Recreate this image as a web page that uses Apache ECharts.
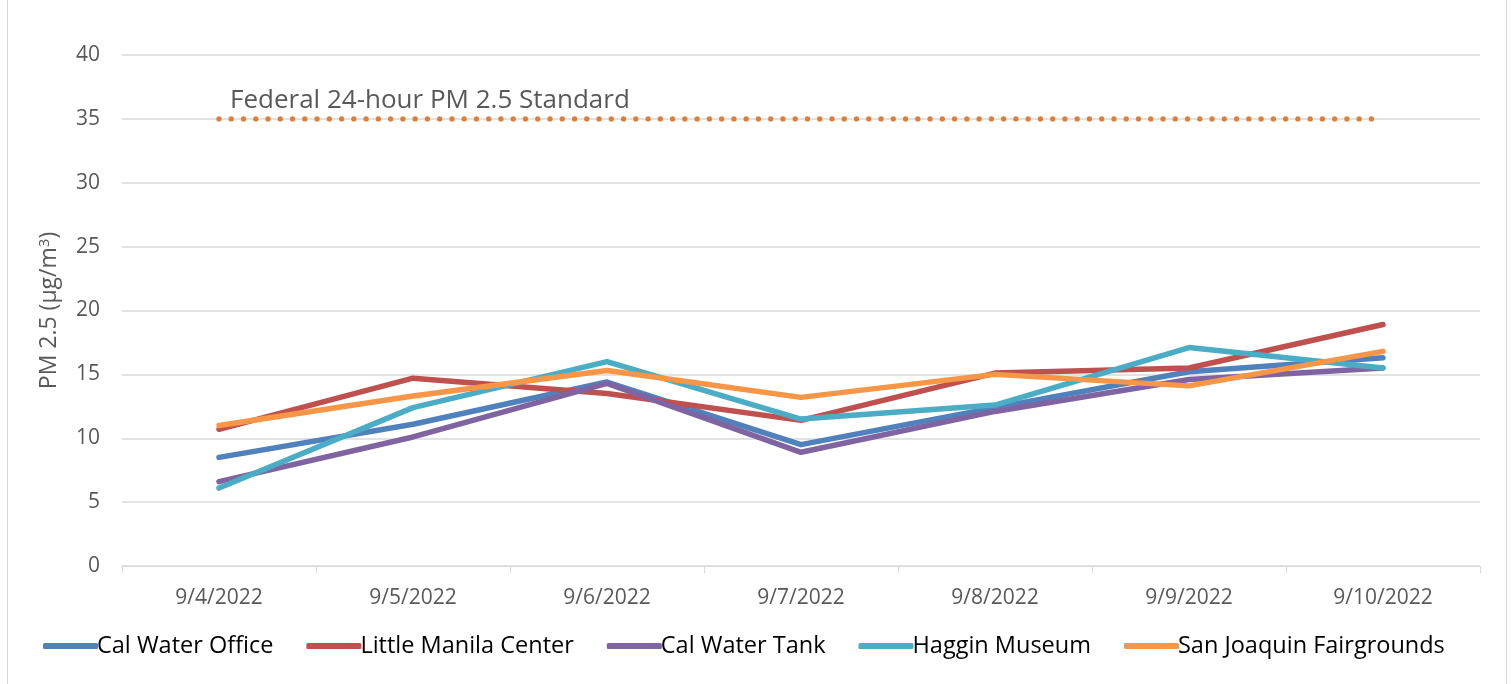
<!DOCTYPE html>
<html><head><meta charset="utf-8">
<script src="https://cdn.jsdelivr.net/npm/echarts@6/dist/echarts.min.js"></script>
<style>html,body{margin:0;padding:0;background:#fff}#c{width:1512px;height:684px}</style>
</head><body><div id="c"></div>
<script>
const categories = ['9/4/2022','9/5/2022','9/6/2022','9/7/2022','9/8/2022','9/9/2022','9/10/2022'];
const calWaterOffice = [8.5, 11.1, 14.4, 9.5, 12.4, 15.2, 16.3];
const littleManila = [10.7, 14.7, 13.5, 11.4, 15.1, 15.5, 18.9];
const calWaterTank = [6.6, 10.1, 14.3, 8.9, 12.1, 14.6, 15.5];
const hagginMuseum = [6.1, 12.4, 16.0, 11.5, 12.6, 17.1, 15.5];
const sjFairgrounds = [11.0, 13.3, 15.3, 13.2, 15.0, 14.1, 16.8];
const standard = [35, 35, 35, 35, 35, 35, 35];
const yTicks = [0, 5, 10, 15, 20, 25, 30, 35, 40];

const font = '"Open Sans", sans-serif';
const chart = echarts.init(document.getElementById('c'));
function s(name, data, color) {
  return { name, type: 'line', data, symbol: 'none', smooth: false,
    lineStyle: { width: 5.5, color, cap: 'round', join: 'round' }, itemStyle: { color }, z: 3 };
}
chart.setOption({
  animation: false,
  grid: { left: 122, right: 32, top: 55, bottom: 118 },
  graphic: [{ type: 'rect', shape: { x: 7.5, y: -2, width: 1499, height: 700 }, style: { fill: 'none', stroke: '#d9d9d9', lineWidth: 1 }, silent: true }],
  xAxis: { type: 'category', data: categories, boundaryGap: true,
    axisLine: { lineStyle: { color: '#d9d9d9', width: 1 } },
    axisTick: { show: true, length: 7, lineStyle: { color: '#d9d9d9' } },
    axisLabel: { color: '#595959', fontSize: 21, fontFamily: font, margin: 22 } },
  yAxis: { type: 'value', min: yTicks[0], max: yTicks[yTicks.length - 1], interval: 5,
    name: '{a|PM 2.5 (µg/m}{s|3}{a|)}', nameLocation: 'middle', nameGap: 60, nameRotate: 90,
    nameTextStyle: { rich: { a: { fontSize: 23, color: '#595959', fontFamily: font }, s: { fontSize: 15, color: '#595959', fontFamily: font, verticalAlign: 'bottom', padding: [0,0,10,0] } } },
    axisLine: { show: false }, axisTick: { show: false },
    splitLine: { lineStyle: { color: '#d9d9d9', width: 1.5 } },
    axisLabel: { color: '#595959', fontSize: 21, fontFamily: font, margin: 22 } },
  legend: { bottom: 21, left: 38, itemWidth: 55, itemHeight: 6, itemGap: 33, icon: 'roundRect',
    textStyle: { fontSize: 23.5, color: '#000', fontFamily: font, padding: [0,0,0,-6] },
    data: ['Cal Water Office','Little Manila Center','Cal Water Tank','Haggin Museum','San Joaquin Fairgrounds'] },
  series: [
    { name: 'Standard', type: 'line', symbol: 'circle', symbolSize: 0, showSymbol: true, z: 2,
      data: standard.map((v, i) => i === 0 ? { value: v, label: { show: true, position: 'top', align: 'left', offset: [11, 0], formatter: 'Federal 24-hour PM 2.5 Standard', fontSize: 26, color: '#595959', fontFamily: font } } : v),
      lineStyle: { width: 5.3, color: '#E27D36', type: [0, 12.26], cap: 'round' } },
    s('Cal Water Office', calWaterOffice, '#4F81BD'),
    s('Little Manila Center', littleManila, '#C0504D'),
    s('Cal Water Tank', calWaterTank, '#8064A2'),
    s('Haggin Museum', hagginMuseum, '#4BACC6'),
    s('San Joaquin Fairgrounds', sjFairgrounds, '#F79646')
  ]
});
</script></body></html>
